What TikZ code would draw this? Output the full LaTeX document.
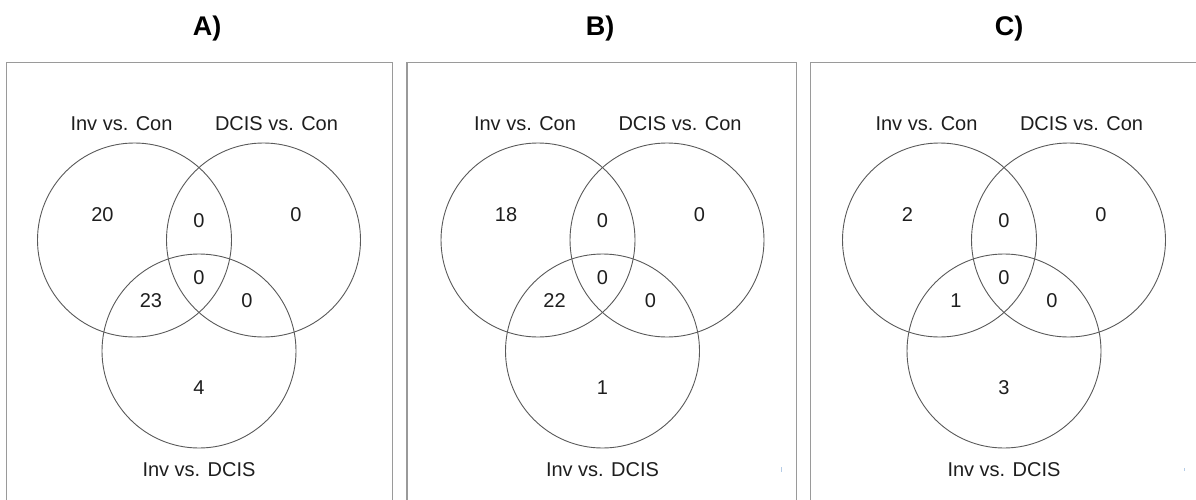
\documentclass[tikz,border=0pt]{standalone}
\usepackage{fontspec}
\setmainfont{Liberation Sans}
\definecolor{circlegray}{HTML}{5A5A5A}
\definecolor{boxgray}{HTML}{9A9A9A}
\definecolor{textdark}{HTML}{1E1E1E}
\definecolor{speck}{HTML}{B5CCE6}
\tikzset{
  vcirc/.style={circle, draw=circlegray, line width=0.9pt, minimum size=194pt, inner sep=0pt},
  vlab/.style={anchor=base, inner sep=0pt, text=textdark, font=\fontsize{20}{24}\selectfont},
  vnum/.style={anchor=base, inner sep=0pt, text=textdark, font=\fontsize{20}{24}\selectfont},
  vtitle/.style={anchor=base, inner sep=0pt, text=black, font=\bfseries\fontsize{27}{32}\selectfont},
  vbox/.style={draw=boxgray, line width=1.4pt}
}
% #1 prefix, #2 centre x, #3 title x, #4 title
\newcommand{\vennshape}[4]{%
  \node[vtitle] (#1-title) at (#3,36) {#4};
  \node[vcirc] (#1-c1) at (#2-64.5,240) {};
  \node[vcirc] (#1-c2) at (#2+64.5,240) {};
  \node[vcirc] (#1-c3) at (#2,351) {};
  \node[vlab] (#1-l1) at (#2-77.5,131) {Inv vs. Con};
  \node[vlab] (#1-l2) at (#2+77.5,131) {DCIS vs. Con};
  \node[vlab] (#1-l3) at (#2,476.7) {Inv vs. DCIS};
}
% #1 prefix, #2 centre x, #3..#9 region counts
\newcommand{\vennnums}[9]{%
  \node[vnum] (#1-n1) at (#2-96.5,221) {#3};
  \node[vnum] (#1-n12) at (#2,227) {#4};
  \node[vnum] (#1-n2) at (#2+97,221) {#5};
  \node[vnum] (#1-n123) at (#2,284) {#6};
  \node[vnum] (#1-n13) at (#2-48,307) {#7};
  \node[vnum] (#1-n23) at (#2+48,307) {#8};
  \node[vnum] (#1-n3) at (#2,394) {#9};
}
\begin{document}
\begin{tikzpicture}[x=1pt,y=-1pt]
\useasboundingbox (0,0) rectangle (1196,500);
\fill[white] (0,0) rectangle (1196,500);
% panel frames
\draw[vbox] (6.7,503) -- (6.7,62.7) -- (392.7,62.7) -- (392.7,503);
\draw[vbox] (407,503) -- (407,62.7) -- (796.7,62.7) -- (796.7,503);
\draw[vbox] (810.7,503) -- (810.7,62.7) -- (1199,62.7);
% panels
\vennshape{A}{199}{207}{A)}
\vennnums{A}{199}{20}{0}{0}{0}{23}{0}{4}
\vennshape{B}{602.5}{600}{B)}
\vennnums{B}{602.5}{18}{0}{0}{0}{22}{0}{1}
\vennshape{C}{1004}{1009}{C)}
\vennnums{C}{1004}{2}{0}{0}{0}{1}{0}{3}
% faint specks
\draw[speck, line width=1pt] (781,467) -- (781,472);
\draw[speck, line width=0.8pt] (1184,468) -- (1184,471);
\end{tikzpicture}
\end{document}
